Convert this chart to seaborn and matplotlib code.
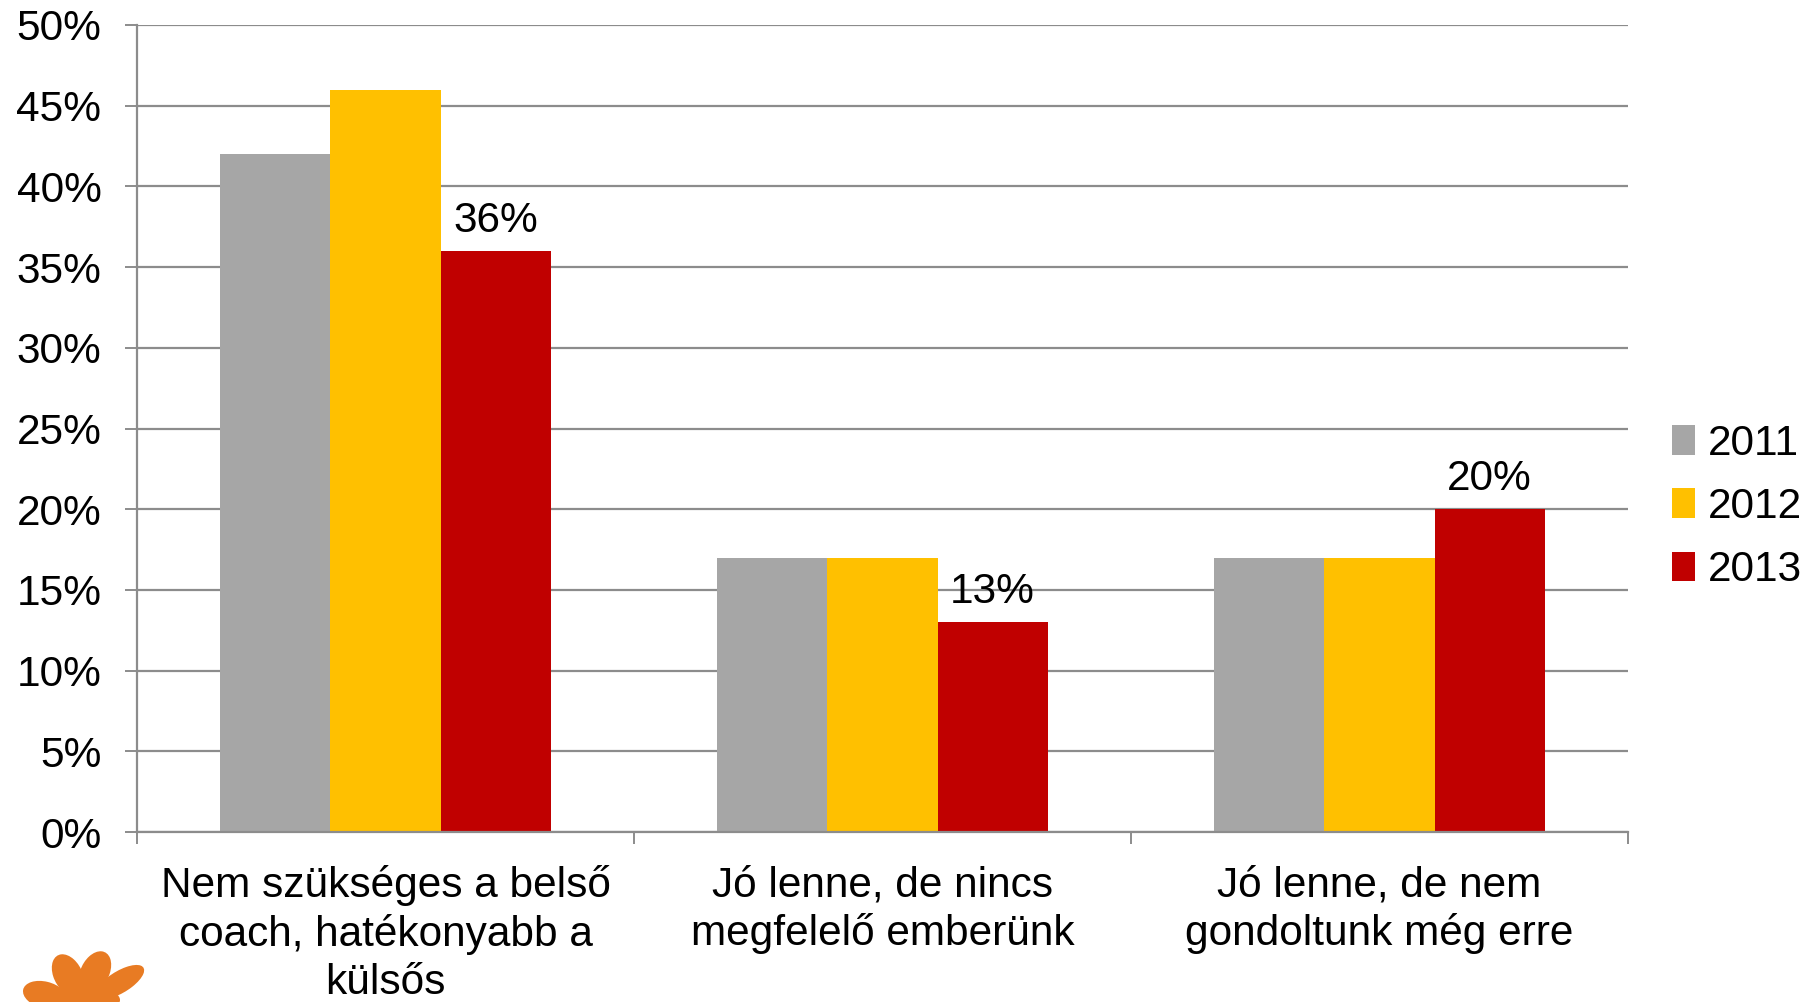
import matplotlib
matplotlib.use("Agg")
import matplotlib.pyplot as plt
import seaborn as sns
import pandas as pd
from matplotlib.patches import Ellipse, Patch
from matplotlib.ticker import FixedLocator

categories = [
    "Nem szükséges a belső\ncoach, hatékonyabb a\nkülsős",
    "Jó lenne, de nincs\nmegfelelő emberünk",
    "Jó lenne, de nem\ngondoltunk még erre",
]
years = ["2011", "2012", "2013"]
v2011 = [42, 17, 17]
v2012 = [46, 17, 17]
v2013 = [36, 13, 20]
colors = ["#A6A6A6", "#FFC000", "#C00000"]

rows = []
for y, vals in zip(years, [v2011, v2012, v2013]):
    for c, v in zip(categories, vals):
        rows.append({"cat": c, "year": y, "val": v})
df = pd.DataFrame(rows)

sns.set_theme(style="white")
plt.rcParams["font.family"] = ["Liberation Sans", "DejaVu Sans"]
plt.rcParams["text.color"] = "black"
plt.rcParams["xtick.labelcolor"] = "black"
plt.rcParams["ytick.labelcolor"] = "black"
FS = 30.5
grid_c = "#8C8C8C"

fig = plt.figure(figsize=(18.16, 10.02), dpi=100)
ax = fig.add_axes([137/1816, 1-832/1002, (1628-137)/1816, (832-25)/1002])

sns.barplot(data=df, x="cat", y="val", hue="year", palette=colors,
            width=0.664, saturation=1, ax=ax, legend=False, errorbar=None)

for p in ax.patches:
    p.set_edgecolor("none")
    p.set_linewidth(0)

ax.set_ylim(0, 50)
ax.set_xlim(-0.5, 2.5)
ax.set_yticks(range(0, 51, 5))
ax.set_yticklabels([f"{v}%" for v in range(0, 51, 5)], fontsize=FS, color="black")
ax.yaxis.grid(True, color=grid_c, linewidth=1.6)
ax.set_axisbelow(True)
ax.set_xlabel("")
ax.set_ylabel("")
ax.tick_params(axis="y", length=8.6, width=1.4, color=grid_c, pad=17, left=True)
ax.tick_params(axis="x", which="major", length=0, pad=24)
ax.xaxis.set_minor_locator(FixedLocator([-0.5, 0.5, 1.5, 2.5]))
ax.tick_params(axis="x", which="minor", length=8.6, width=1.4, color=grid_c, bottom=True)
for lbl in ax.get_xticklabels():
    lbl.set_fontsize(FS)
    lbl.set_color("black")
    lbl.set_linespacing(1.25)
    lbl.set_horizontalalignment("center")

for s in ["top", "right"]:
    ax.spines[s].set_visible(False)
for s in ["left", "bottom"]:
    ax.spines[s].set_color(grid_c)
    ax.spines[s].set_linewidth(1.6)

# data labels on 2013 bars
cont2013 = ax.containers[2]
ax.bar_label(cont2013, labels=[f"{v}%" for v in v2013], fontsize=FS, padding=7, color="black")

handles = [Patch(facecolor=c, edgecolor="none") for c in colors]
leg = fig.legend(handles, years, loc="center left", bbox_to_anchor=(1655/1816, 1-507/1002),
                 frameon=False, fontsize=FS, handlelength=0.55, handleheight=0.7,
                 handletextpad=0.3, labelspacing=0.55, borderaxespad=0)
for t in leg.get_texts():
    t.set_color("black")

# logo (partial, bottom-left)
orange = "#E87B23"
for (cx, cy, w, h, ang) in [(45, 995, 40, 30, 30), (68, 975, 30, 42, 10),
                            (95, 972, 30, 42, -10), (120, 982, 30, 40, -35),
                            (80, 1000, 80, 30, 0)]:
    e = Ellipse((cx/1816, 1-cy/1002), w/1816, h/1002, angle=ang,
                transform=fig.transFigure, facecolor=orange, edgecolor="none")
    fig.patches.append(e)

fig.savefig("out.png", dpi=100)
